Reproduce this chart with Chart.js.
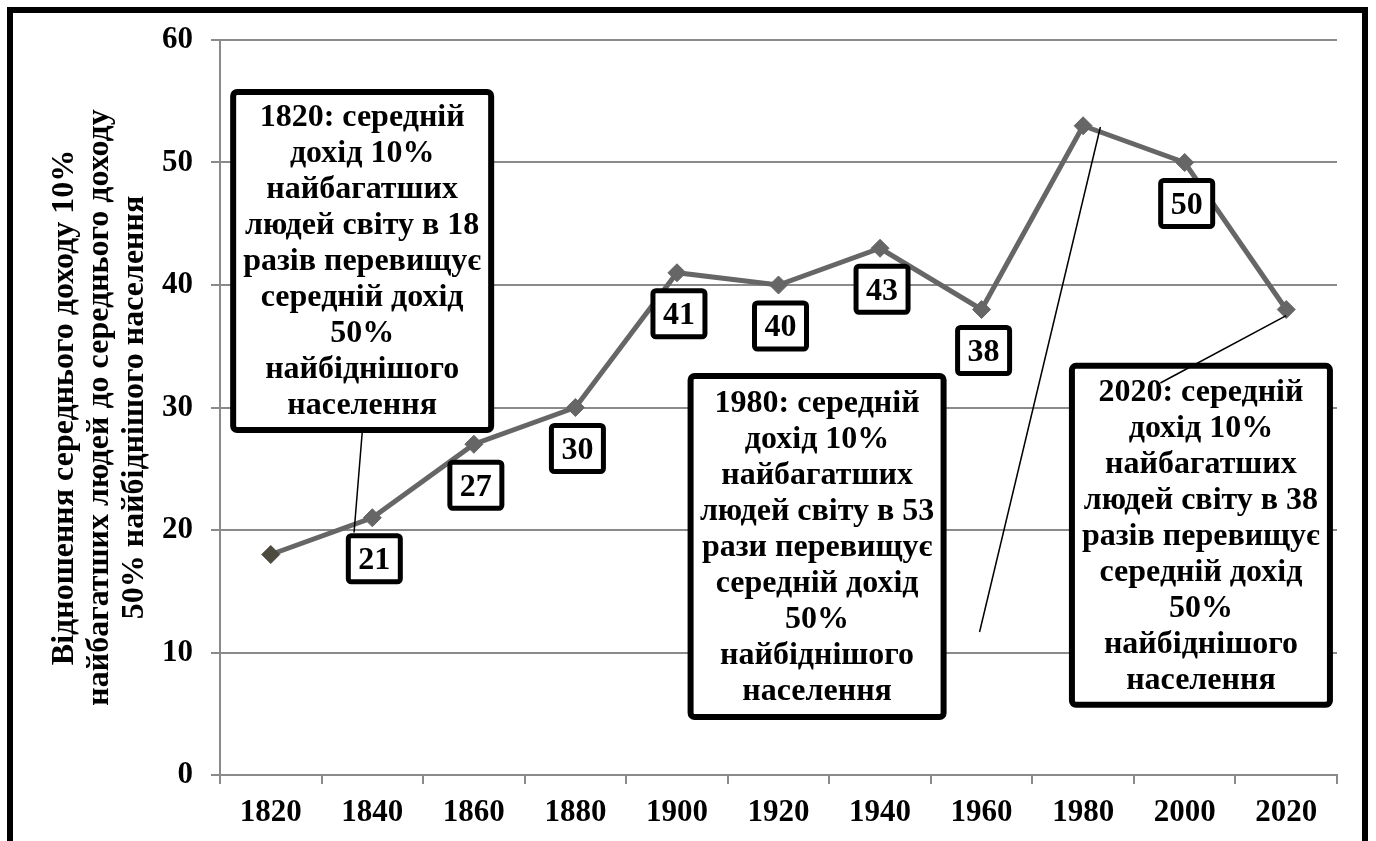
<!DOCTYPE html>
<html>
<head>
<meta charset="utf-8">
<script src="https://cdn.jsdelivr.net/npm/chart.js@4/dist/chart.umd.min.js"></script>
<style>
  html, body { margin: 0; padding: 0; background: #fff; }
  #wrap { width: 1376px; height: 841px; position: relative; }
</style>
</head>
<body>
<div id="wrap"><canvas id="chart"></canvas></div>
<script>
const years = ["1820", "1840", "1860", "1880", "1900", "1920", "1940", "1960", "1980", "2000", "2020"];
const ratio = [18, 21, 27, 30, 41, 40, 43, 38, 53, 50, 38];
const labelledPoints = [1, 2, 3, 4, 5, 6, 7, 9];
const yTitle = [
    "Відношення середнього доходу 10%",
    "найбагатших людей до середнього доходу",
    "50% найбіднішого населення",
];
const note1820 = ["1820: середній", "дохід 10%", "найбагатших", "людей світу в 18", "разів перевищує", "середній дохід", "50%", "найбіднішого", "населення"];
const note1980 = ["1980: середній", "дохід 10%", "найбагатших", "людей світу в 53", "рази перевищує", "середній дохід", "50%", "найбіднішого", "населення"];
const note2020 = ["2020: середній", "дохід 10%", "найбагатших", "людей світу в 38", "разів перевищує", "середній дохід", "50%", "найбіднішого", "населення"];

const FONT = '"Liberation Serif", "Times New Roman", serif';
const GRID = "#8a8a8a";
const LINE = "#666666";

// callout placement, in (category index, value) space
const notes = [
    { lines: note1820, cx: 0.9, top: 55.76, w: 258, h: 338, from: "bottom", to: [0.82, 19.8] },
    { lines: note1980, cx: 5.38, top: 32.57, w: 253, h: 341, from: [6.98, 11.67], to: [8.17, 52.9] },
    { lines: note2020, cx: 9.16, top: 33.4, w: 258, h: 339, from: [8.76, 32.0], to: [10.0, 37.5] },
];

function roundBox(ctx, x, y, w, h, r) {
    ctx.beginPath();
    ctx.moveTo(x + r, y);
    ctx.arcTo(x + w, y, x + w, y + h, r);
    ctx.arcTo(x + w, y + h, x, y + h, r);
    ctx.arcTo(x, y + h, x, y, r);
    ctx.arcTo(x, y, x + w, y, r);
    ctx.closePath();
}

const decorPlugin = {
    id: "decor",
    beforeDraw(chart) {
        const ctx = chart.ctx;
        ctx.save();
        ctx.fillStyle = "#fff";
        ctx.fillRect(0, 0, chart.width, chart.height);
        ctx.restore();
    },
    afterDatasetsDraw(chart) {
        const ctx = chart.ctx;
        const xs = chart.scales.x;
        const ys = chart.scales.y;
        const meta = chart.getDatasetMeta(0);

        // value labels
        ctx.save();
        ctx.font = "bold 32px " + FONT;
        ctx.textAlign = "center";
        ctx.textBaseline = "middle";
        labelledPoints.forEach(i => {
            const p = meta.data[i];
            const txt = String(ratio[i]);
            const w = ctx.measureText(txt).width + 20;
            const h = 46;
            const cx = p.x + 2;
            const cy = p.y + 41;
            roundBox(ctx, cx - w / 2, cy - h / 2, w, h, 3);
            ctx.fillStyle = "#fff";
            ctx.fill();
            ctx.lineWidth = 5;
            ctx.strokeStyle = "#000";
            ctx.stroke();
            ctx.fillStyle = "#000";
            ctx.fillText(txt, cx, cy + 2);
        });
        ctx.restore();

        // callout boxes
        ctx.save();
        notes.forEach(n => {
            const cx = xs.getPixelForValue(n.cx);
            const top = ys.getPixelForValue(n.top);
            const left = cx - n.w / 2;
            roundBox(ctx, left, top, n.w, n.h, 4);
            ctx.fillStyle = "#fff";
            ctx.fill();
            ctx.lineWidth = 6;
            ctx.strokeStyle = "#000";
            ctx.stroke();
            ctx.fillStyle = "#000";
            ctx.font = "bold 32px " + FONT;
            ctx.textAlign = "center";
            ctx.textBaseline = "middle";
            const step = 36;
            const y0 = top + n.h / 2 - (n.lines.length - 1) * step / 2 + 1;
            n.lines.forEach((l, k) => ctx.fillText(l, cx, y0 + k * step));
        });
        // pointer lines
        ctx.lineWidth = 1.5;
        ctx.strokeStyle = "#000";
        notes.forEach(n => {
            let fx, fy;
            if (n.from === "bottom") {
                fx = xs.getPixelForValue(n.cx);
                fy = ys.getPixelForValue(n.top) + n.h + 3;
            } else {
                fx = xs.getPixelForValue(n.from[0]);
                fy = ys.getPixelForValue(n.from[1]);
            }
            ctx.beginPath();
            ctx.moveTo(fx, fy);
            ctx.lineTo(xs.getPixelForValue(n.to[0]), ys.getPixelForValue(n.to[1]));
            ctx.stroke();
        });
        ctx.restore();

        // outer frame
        ctx.save();
        ctx.lineWidth = 6;
        ctx.strokeStyle = "#000";
        ctx.strokeRect(10, 10, 1355, 900);
        ctx.restore();
    },
};

new Chart(document.getElementById("chart"), {
    type: "line",
    data: {
        labels: years,
        datasets: [{
            data: ratio,
            borderColor: LINE,
            borderWidth: 5,
            pointStyle: "rectRot",
            pointRadius: 9,
            pointHoverRadius: 9,
            pointBackgroundColor: c => (c.dataIndex === 0 ? "#4d4b3d" : LINE),
            pointBorderColor: c => (c.dataIndex === 0 ? "#4d4b3d" : LINE),
            pointBorderWidth: 1,
            tension: 0,
        }],
    },
    options: {
        responsive: true,
        maintainAspectRatio: false,
        animation: false,
        devicePixelRatio: 1,
        layout: { padding: { left: 0, top: 40, right: 39, bottom: 0 } },
        plugins: {
            legend: { display: false },
            tooltip: { enabled: false },
        },
        scales: {
            x: {
                offset: true,
                afterFit: s => { s.height = 66; },
                grid: {
                    display: true,
                    drawOnChartArea: false,
                    drawTicks: true,
                    tickLength: 9,
                    color: GRID,
                    lineWidth: 2,
                    offset: true,
                },
                border: { color: GRID, width: 2 },
                ticks: {
                    color: "#000",
                    font: { family: FONT, size: 31, weight: "bold" },
                    padding: 10,
                    maxRotation: 0,
                },
            },
            y: {
                min: 0,
                max: 60,
                afterFit: s => { s.width = 220; },
                grid: {
                    color: GRID,
                    lineWidth: 2,
                    tickLength: 9,
                },
                border: { color: GRID, width: 2 },
                ticks: {
                    stepSize: 10,
                    color: "#000",
                    font: { family: FONT, size: 31, weight: "bold" },
                    padding: 18,
                },
                title: {
                    display: true,
                    text: yTitle,
                    color: "#000",
                    font: { family: FONT, size: 32, weight: "bold", lineHeight: 1.1 },
                    padding: { top: 47, bottom: 0 },
                },
            },
        },
    },
    plugins: [decorPlugin],
});
</script>
</body>
</html>
